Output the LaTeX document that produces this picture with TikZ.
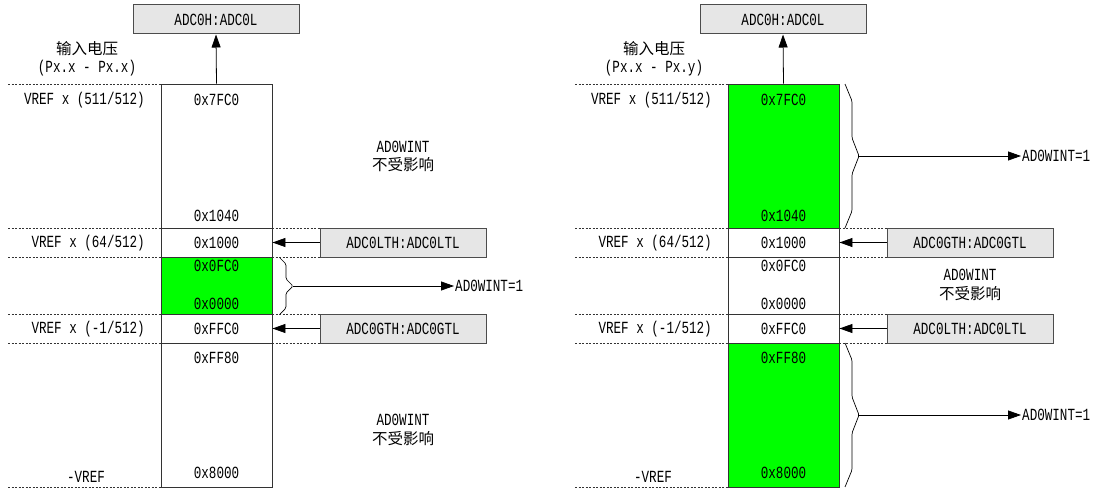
\documentclass[tikz,border=0pt]{standalone}
\usepackage{fontspec}
\setmonofont[FakeStretch=0.74]{Liberation Mono}
\newfontfamily\cjk{Noto Sans CJK SC}
\usetikzlibrary{arrows.meta}
\definecolor{regfill}{HTML}{E6E6E6}
\definecolor{hit}{HTML}{00FF00}
\tikzset{
  seg/.style={draw=black!80, line width=0.9pt, minimum width=111pt, inner sep=0pt},
  reg/.style={draw=black!70, fill=regfill, line width=1pt, minimum width=166pt, minimum height=29pt, inner sep=0pt},
  lvl/.style={dash pattern=on 2pt off 1.5pt, line width=0.6pt, black!80},
  arr/.style={-{Triangle[length=13pt,width=9pt]}, line width=0.8pt},
  brc/.style={line width=0.7pt, rounded corners=1.5pt},
  txt/.style={inner sep=1pt},
  cjktxt/.style={inner sep=1pt, font=\cjk\fontsize{15.5}{17}\selectfont},
}
\begin{document}
\begin{tikzpicture}[x=1pt,y=-1pt,font=\fontsize{17}{19}\selectfont\ttfamily]
\useasboundingbox (0,0) rectangle (1099,489);

% left: result inside the window
\node[seg,minimum height=144pt] (Lc1) at (216.5,156) {};
\node[seg,minimum height=29pt] (Lc2) at (216.5,242.5) {};
\node[seg,fill=hit,minimum height=57pt] (Lc3) at (216.5,285.5) {};
\node[seg,minimum height=29pt] (Lc4) at (216.5,328.5) {};
\node[seg,minimum height=144pt] (Lc5) at (216.5,415) {};

\draw[lvl] (8,84) -- (161,84);
\draw[lvl] (8,228) -- (161,228);
\draw[lvl] (8,257) -- (161,257);
\draw[lvl] (8,314) -- (161,314);
\draw[lvl] (8,343) -- (161,343);
\draw[lvl] (8,487) -- (161,487);
\draw[lvl] (272,228) -- (320,228);
\draw[lvl] (272,257) -- (320,257);
\draw[lvl] (272,314) -- (320,314);
\draw[lvl] (272,343) -- (320,343);

\node[reg] (Ladc) at (216,19.5) {ADC0H:ADC0L};
\node[cjktxt] (Lvin) at (87,49) {输入电压};
\node[txt] (Lpx) at (87,68) {(Px.x - Px.x)};

\node[txt] (Lv1) at (216.5,100) {0x7FC0};
\node[txt] (Lv2) at (216.5,216) {0x1040};
\node[txt] (Lv3) at (216.5,243) {0x1000};
\node[txt] (Lv4) at (216.5,266) {0x0FC0};
\node[txt] (Lv5) at (216.5,304) {0x0000};
\node[txt] (Lv6) at (216.5,329) {0xFFC0};
\node[txt] (Lv7) at (216.5,358) {0xFF80};
\node[txt] (Lv8) at (216.5,473) {0x8000};

\node[txt,anchor=east] (Lr1) at (146,100) {VREF x (511/512)};
\node[txt,anchor=east] (Lr2) at (146,243) {VREF x (64/512)};
\node[txt,anchor=east] (Lr3) at (146,329) {VREF x (-1/512)};
\node[txt] (Lr4) at (86,477) {-VREF};

\node[reg] (Llth) at (403,242.5) {ADC0LTH:ADC0LTL};
\node[reg] (Lgth) at (403,328.5) {ADC0GTH:ADC0GTL};

\draw[arr] (Lc1.north) -- (Ladc.south);
\draw[arr] (Llth.west) -- (Lc2.east);
\draw[arr] (Lgth.west) -- (Lc4.east);

\node[txt] (Lna1) at (403,147) {AD0WINT};
\node[cjktxt] (Lnb1) at (403,165) {不受影响};
\node[txt] (Lna2) at (403,420) {AD0WINT};
\node[cjktxt] (Lnb2) at (403,439) {不受影响};

\draw[brc] (280,258) -- (286,264) -- (286,279) -- (293,286) coordinate (Lbt)
  -- (286,293) -- (286,308) -- (280,314);
\node[txt,anchor=west] (Lhit) at (454,286) {AD0WINT=1};
\draw[arr] (Lbt) -- (Lhit.west);

% right: result outside the window
\begin{scope}[xshift=567pt]
\node[seg,fill=hit,minimum height=144pt] (Rc1) at (216.5,156) {};
\node[seg,minimum height=29pt] (Rc2) at (216.5,242.5) {};
\node[seg,minimum height=57pt] (Rc3) at (216.5,285.5) {};
\node[seg,minimum height=29pt] (Rc4) at (216.5,328.5) {};
\node[seg,fill=hit,minimum height=144pt] (Rc5) at (216.5,415) {};

\draw[lvl] (8,84) -- (161,84);
\draw[lvl] (8,228) -- (161,228);
\draw[lvl] (8,257) -- (161,257);
\draw[lvl] (8,314) -- (161,314);
\draw[lvl] (8,343) -- (161,343);
\draw[lvl] (8,487) -- (161,487);
\draw[lvl] (272,228) -- (320,228);
\draw[lvl] (272,257) -- (320,257);
\draw[lvl] (272,314) -- (320,314);
\draw[lvl] (272,343) -- (320,343);

\node[reg] (Radc) at (216,19.5) {ADC0H:ADC0L};
\node[cjktxt] (Rvin) at (87,49) {输入电压};
\node[txt] (Rpx) at (87,68) {(Px.x - Px.y)};

\node[txt] (Rv1) at (216.5,100) {0x7FC0};
\node[txt] (Rv2) at (216.5,216) {0x1040};
\node[txt] (Rv3) at (216.5,243) {0x1000};
\node[txt] (Rv4) at (216.5,266) {0x0FC0};
\node[txt] (Rv5) at (216.5,304) {0x0000};
\node[txt] (Rv6) at (216.5,329) {0xFFC0};
\node[txt] (Rv7) at (216.5,358) {0xFF80};
\node[txt] (Rv8) at (216.5,473) {0x8000};

\node[txt,anchor=east] (Rr1) at (146,100) {VREF x (511/512)};
\node[txt,anchor=east] (Rr2) at (146,243) {VREF x (64/512)};
\node[txt,anchor=east] (Rr3) at (146,329) {VREF x (-1/512)};
\node[txt] (Rr4) at (86,477) {-VREF};

\node[reg] (Rgth) at (403,242.5) {ADC0GTH:ADC0GTL};
\node[reg] (Rlth) at (403,328.5) {ADC0LTH:ADC0LTL};

\draw[arr] (Rc1.north) -- (Radc.south);
\draw[arr] (Rgth.west) -- (Rc2.east);
\draw[arr] (Rlth.west) -- (Rc4.east);

\node[txt] (Rna) at (403,275) {AD0WINT};
\node[cjktxt] (Rnb) at (403,294) {不受影响};

\draw[brc] (278,84) -- (285,101) -- (285,138) -- (292,156) coordinate (Rbt1)
  -- (285,174) -- (285,211) -- (278,228);
\draw[brc] (278,343) -- (285,360) -- (285,397) -- (292,415) coordinate (Rbt2)
  -- (285,433) -- (285,470) -- (278,487);
\node[txt,anchor=west] (Rhit1) at (454,156) {AD0WINT=1};
\node[txt,anchor=west] (Rhit2) at (454,415) {AD0WINT=1};
\draw[arr] (Rbt1) -- (Rhit1.west);
\draw[arr] (Rbt2) -- (Rhit2.west);
\end{scope}

\end{tikzpicture}
\end{document}
